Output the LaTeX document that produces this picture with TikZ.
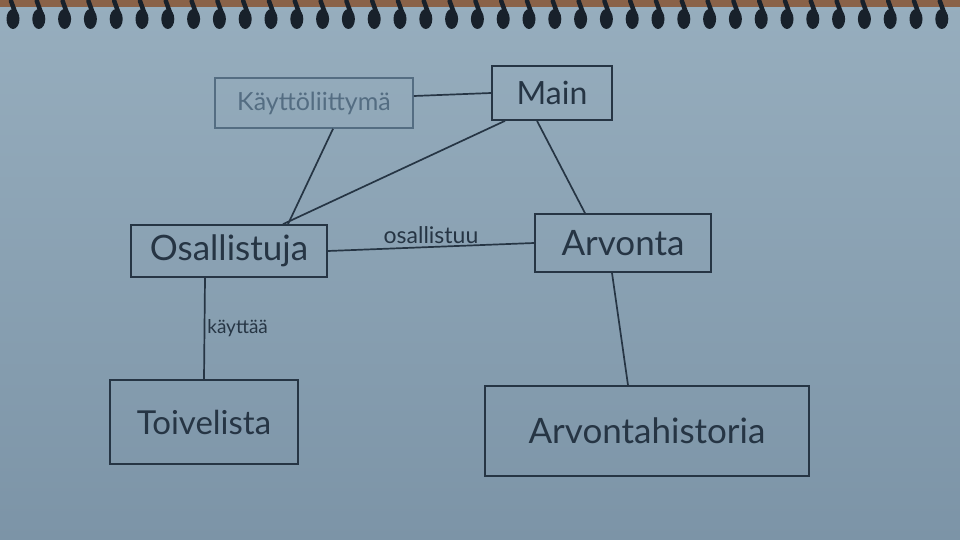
\documentclass[tikz,border=0pt]{standalone}
\usepackage{fontspec}
\setmainfont{Lato}
\definecolor{paperT}{HTML}{97AEBE}
\definecolor{paperB}{HTML}{7C94A7}
\definecolor{pen}{HTML}{263544}
\definecolor{pencil}{HTML}{546D82}
\definecolor{ring}{HTML}{18212B}
\definecolor{strip}{HTML}{8A6248}
\begin{document}
\begin{tikzpicture}[x=1pt,y=-1pt,
  box/.style={draw=pen, line width=1.7pt, inner sep=0pt, text=pen},
  link/.style={draw=pen, line width=1.7pt},
  lbl/.style={text=pen, inner sep=2pt}]
\useasboundingbox (0,0) rectangle (960,540);
\shade[top color=paperT, bottom color=paperB] (0,0) rectangle (960,540);
\fill[strip] (0,0) rectangle (960,7);
\foreach \i in {0,...,36} {
  \fill[ring] (13+25.8*\i,19) ellipse [x radius=6.5, y radius=10];
  \draw[ring, line width=4.5pt, line cap=round] (15+25.8*\i,12) -- (11+25.8*\i,1);
}

\node[box, draw=pencil, text=pencil, minimum width=198pt, minimum height=50pt, font=\fontsize{25}{30}\selectfont] (kay) at (314,103) {Käyttöliittymä};
\node[box, minimum width=120pt, minimum height=54pt, font=\fontsize{32}{38}\selectfont] (main) at (552,93) {Main};
\node[box, minimum width=196pt, minimum height=52pt, font=\fontsize{35}{40}\selectfont] (osa) at (229,251) {Osallistuja};
\node[box, minimum width=176pt, minimum height=58pt, font=\fontsize{35}{42}\selectfont] (arv) at (623,243) {Arvonta};
\node[box, minimum width=188pt, minimum height=84pt, font=\fontsize{33}{40}\selectfont] (toi) at (204,422) {Toivelista};
\node[box, minimum width=324pt, minimum height=90pt, font=\fontsize{35}{42}\selectfont] (hist) at (647,431) {Arvontahistoria};

\draw[link] ([yshift=7pt]kay.east) -- (main.west);
\draw[link] ([xshift=19pt]kay.south) -- ([xshift=59pt]osa.north);
\draw[link] ([xshift=-47pt]main.south) -- ([xshift=54pt]osa.north);
\draw[link] ([xshift=-15pt]main.south) -- ([xshift=-38pt]arv.north);
\draw[link] (osa.east) -- node[lbl, above, font=\fontsize{23}{28}\selectfont] {osallistuu} (arv.west);
\draw[link] ([xshift=-24pt]osa.south) -- node[lbl, right, font=\fontsize{19}{23}\selectfont] {käyttää} (toi.north);
\draw[link] ([xshift=-11pt]arv.south) -- ([xshift=-19pt]hist.north);
\end{tikzpicture}
\end{document}
